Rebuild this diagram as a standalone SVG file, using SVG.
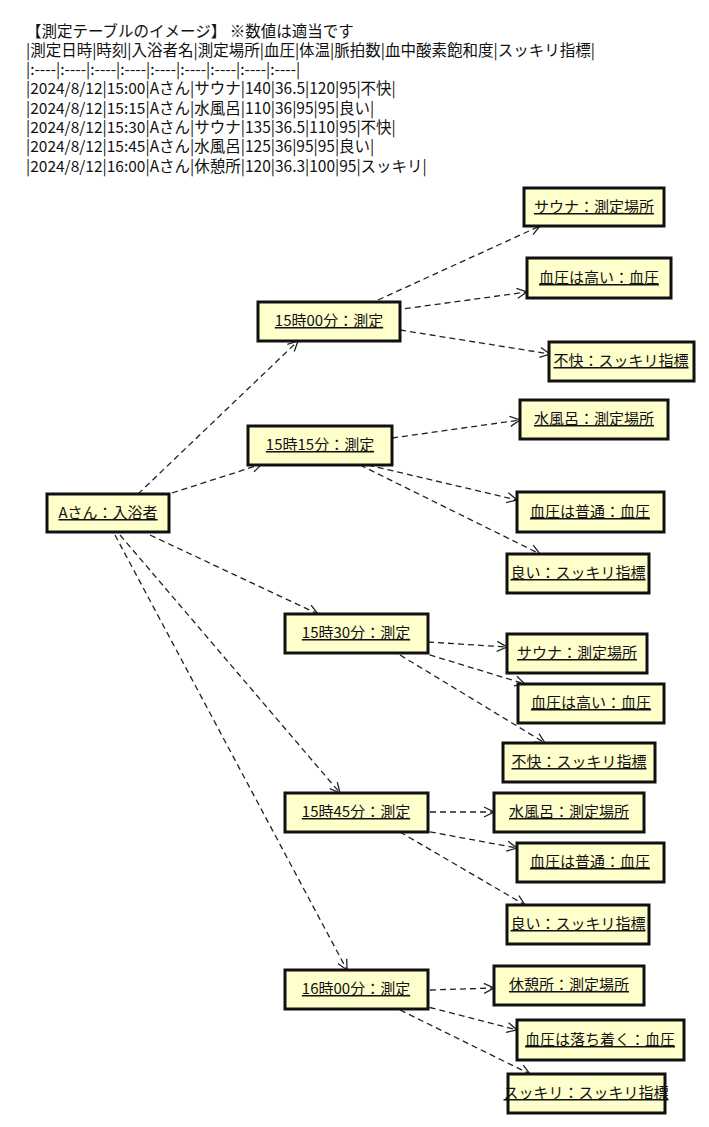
<svg xmlns="http://www.w3.org/2000/svg" width="709" height="1127" viewBox="0 0 709 1127">
<style>
text{font-family:"Noto Sans CJK JP","Liberation Sans",sans-serif;font-size:15.5px;fill:#111}
.n rect{fill:#FFFFCC;stroke:#111;stroke-width:3}
.n text{text-anchor:middle;text-decoration:underline;font-size:15px}
#edges line{stroke:#222;stroke-width:1.3;stroke-dasharray:6,4;marker-end:url(#a)}
</style>
<defs><marker id="a" markerWidth="12" markerHeight="12" refX="11" refY="6" orient="auto" markerUnits="userSpaceOnUse"><path d="M1,1 L11,6 L1,11" fill="none" stroke="#222" stroke-width="1.3"/></marker></defs>
<rect width="709" height="1127" fill="#fff"/>
<g id="header">
<text x="26" y="37">【測定テーブルのイメージ】 ※数値は適当です</text>
<text x="26" y="56">|測定日時|時刻|入浴者名|測定場所|血圧|体温|脈拍数|血中酸素飽和度|スッキリ指標|</text>
<text x="26" y="75">|:----|:----|:----|:----|:----|:----|:----|:----|:----|</text>
<text x="26" y="94">|2024/8/12|15:00|Aさん|サウナ|140|36.5|120|95|不快|</text>
<text x="26" y="114">|2024/8/12|15:15|Aさん|水風呂|110|36|95|95|良い|</text>
<text x="26" y="133">|2024/8/12|15:30|Aさん|サウナ|135|36.5|110|95|不快|</text>
<text x="26" y="152">|2024/8/12|15:45|Aさん|水風呂|125|36|95|95|良い|</text>
<text x="26" y="172">|2024/8/12|16:00|Aさん|休憩所|120|36.3|100|95|スッキリ|</text>
</g>
<g id="edges">
<line x1="138" y1="494" x2="298" y2="341"/>
<line x1="172" y1="493" x2="262" y2="464"/>
<line x1="150" y1="535" x2="318" y2="614"/>
<line x1="120" y1="535" x2="340" y2="793"/>
<line x1="115" y1="535" x2="347" y2="970"/>
<line x1="378" y1="300" x2="540" y2="226"/>
<line x1="395" y1="310" x2="527" y2="292"/>
<line x1="400" y1="330" x2="550" y2="354"/>
<line x1="392" y1="438" x2="520" y2="420"/>
<line x1="368" y1="465" x2="517" y2="500"/>
<line x1="360" y1="465" x2="540" y2="554"/>
<line x1="428" y1="642" x2="507" y2="647"/>
<line x1="420" y1="652" x2="525" y2="684"/>
<line x1="400" y1="655" x2="545" y2="743"/>
<line x1="430" y1="812" x2="494" y2="812"/>
<line x1="420" y1="830" x2="517" y2="848"/>
<line x1="400" y1="832" x2="525" y2="905"/>
<line x1="430" y1="990" x2="494" y2="988"/>
<line x1="420" y1="1005" x2="517" y2="1030"/>
<line x1="400" y1="1010" x2="530" y2="1074"/>
</g>
<g id="nA" class="n"><rect x="47" y="494" width="122" height="38"/><text x="108" y="518">Aさん：入浴者</text></g>
<g id="n1500" class="n"><rect x="258" y="302" width="142" height="39"/><text x="329" y="326">15時00分：測定</text></g>
<g id="n1515" class="n"><rect x="248" y="426" width="144" height="39"/><text x="320" y="450">15時15分：測定</text></g>
<g id="n1530" class="n"><rect x="285" y="614" width="143" height="39"/><text x="356" y="638">15時30分：測定</text></g>
<g id="n1545" class="n"><rect x="285" y="793" width="143" height="39"/><text x="356" y="817">15時45分：測定</text></g>
<g id="n1600" class="n"><rect x="285" y="970" width="143" height="39"/><text x="356" y="994">16時00分：測定</text></g>
<g id="r1" class="n"><rect x="524" y="188" width="140" height="38"/><text x="594" y="212">サウナ：測定場所</text></g>
<g id="r2" class="n"><rect x="527" y="258" width="144" height="40"/><text x="599" y="283">血圧は高い：血圧</text></g>
<g id="r3" class="n"><rect x="549" y="342" width="145" height="39"/><text x="621" y="366">不快：スッキリ指標</text></g>
<g id="r4" class="n"><rect x="520" y="400" width="148" height="39"/><text x="594" y="424">水風呂：測定場所</text></g>
<g id="r5" class="n"><rect x="517" y="492" width="147" height="40"/><text x="590" y="517">血圧は普通：血圧</text></g>
<g id="r6" class="n"><rect x="507" y="554" width="142" height="39"/><text x="578" y="578">良い：スッキリ指標</text></g>
<g id="r7" class="n"><rect x="507" y="634" width="140" height="39"/><text x="577" y="658">サウナ：測定場所</text></g>
<g id="r8" class="n"><rect x="518" y="684" width="146" height="39"/><text x="591" y="708">血圧は高い：血圧</text></g>
<g id="r9" class="n"><rect x="503" y="743" width="152" height="39"/><text x="579" y="767">不快：スッキリ指標</text></g>
<g id="r10" class="n"><rect x="494" y="793" width="150" height="39"/><text x="569" y="817">水風呂：測定場所</text></g>
<g id="r11" class="n"><rect x="517" y="843" width="147" height="39"/><text x="590" y="867">血圧は普通：血圧</text></g>
<g id="r12" class="n"><rect x="507" y="905" width="142" height="39"/><text x="578" y="929">良い：スッキリ指標</text></g>
<g id="r13" class="n"><rect x="494" y="966" width="150" height="39"/><text x="569" y="990">休憩所：測定場所</text></g>
<g id="r14" class="n"><rect x="517" y="1020" width="167" height="40"/><text x="600" y="1045">血圧は落ち着く：血圧</text></g>
<g id="r15" class="n"><rect x="508" y="1074" width="157" height="39"/><text x="586" y="1098">スッキリ：スッキリ指標</text></g>
</svg>
